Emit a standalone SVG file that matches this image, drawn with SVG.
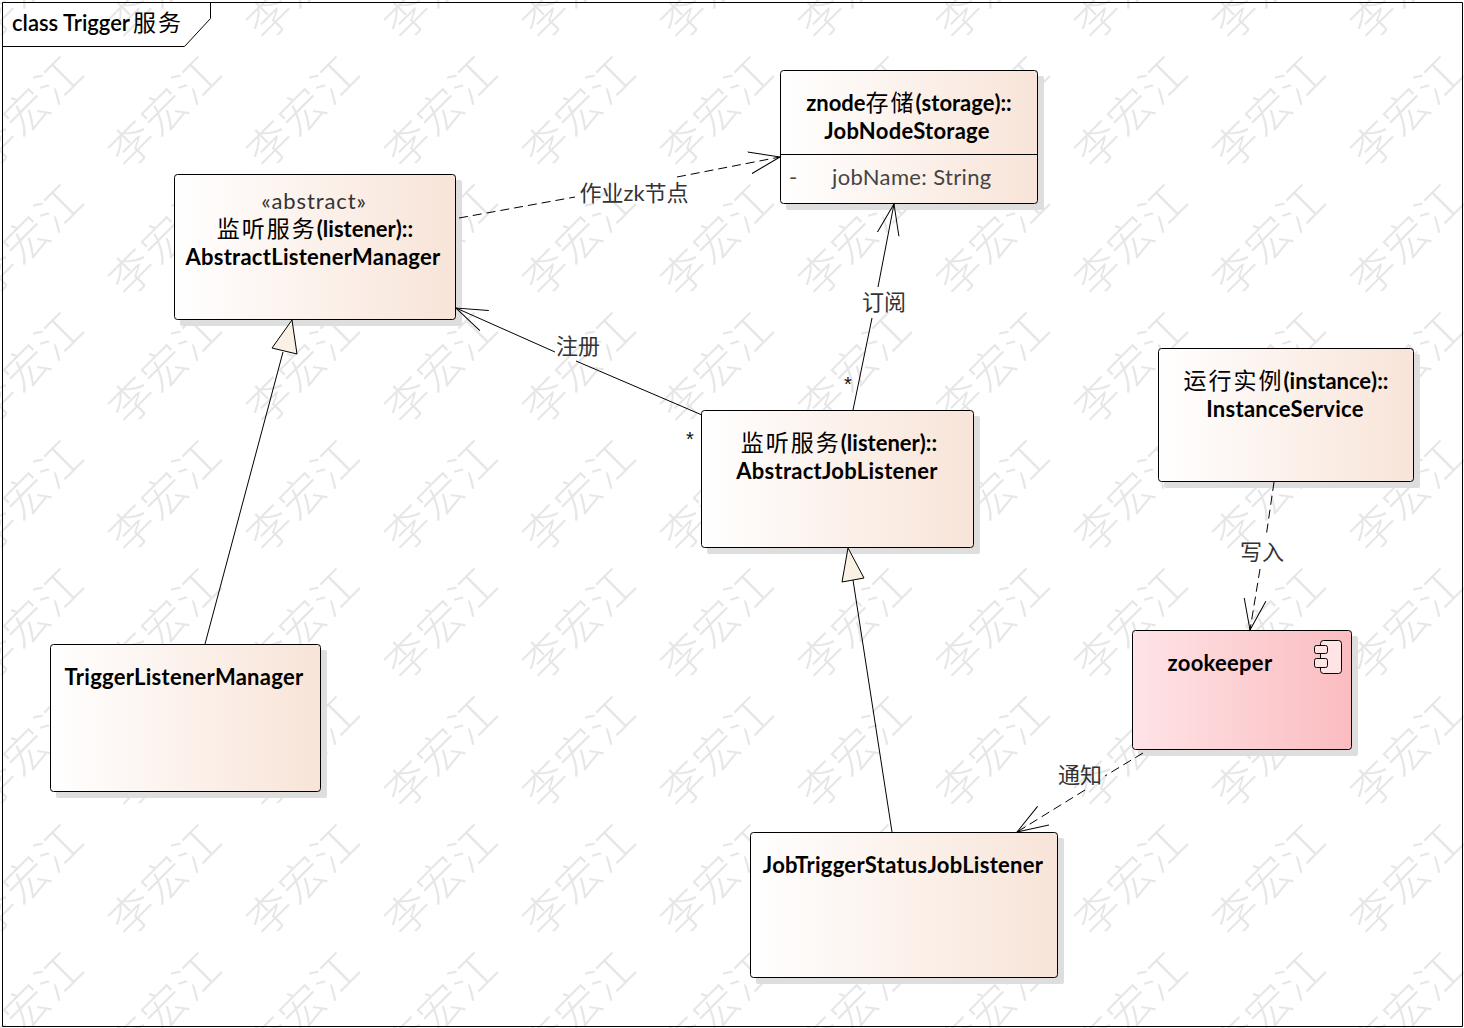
<svg xmlns="http://www.w3.org/2000/svg" width="1464" height="1028" viewBox="0 0 1464 1028">
<defs>
<linearGradient id="g1" x1="0" x2="1" y1="0" y2="0"><stop offset="0" stop-color="#ffffff"/><stop offset="1" stop-color="#f8e4d8"/></linearGradient>
<linearGradient id="g2" x1="0" x2="1" y1="0" y2="0"><stop offset="0" stop-color="#fee4e7"/><stop offset="1" stop-color="#fbbcc0"/></linearGradient>
<pattern id="wm" patternUnits="userSpaceOnUse" width="138" height="128" x="-41" y="48">
<text transform="translate(69 64) rotate(-45)" text-anchor="middle" y="15" class="w">李宏江</text>
</pattern>
<marker id="open" viewBox="0 0 36 24" refX="31" refY="12" markerWidth="36" markerHeight="24" markerUnits="userSpaceOnUse" orient="auto"><path d="M0 1 L31 12 L0 23" fill="none" stroke="#000" stroke-width="1"/></marker>
</defs>
<style>
.w{font:300 44px "Noto Sans CJK SC",sans-serif;fill:#e6e6e6;letter-spacing:2px}
.s{fill:#dedede;stroke:none}
.c{fill:url(#g1);stroke:#000;stroke-width:1}
.z{fill:url(#g2);stroke:#000;stroke-width:1}
text{font-family:Lato,"Noto Sans CJK SC",sans-serif;fill:#000}
.n{font-size:22px;font-weight:700;text-anchor:middle;letter-spacing:.27px}
.nm{letter-spacing:0}
.cj{font-weight:400;font-size:23px;letter-spacing:2px}
.st{font-size:22px;text-anchor:middle;fill:#333;letter-spacing:.9px}
.a{font-size:22px;fill:#444;letter-spacing:.35px}
.l{font-size:22px;fill:#333;text-anchor:middle}
.m{font-family:"Liberation Sans",sans-serif;font-size:20px;text-anchor:middle;fill:#111}
.line{fill:none;stroke:#000;stroke-width:1}
.d{stroke-dasharray:9 5}
.tri{fill:#f8f1e4;stroke:#000;stroke-width:1}
</style>
<rect width="1464" height="1028" fill="#fff"/>
<rect width="1464" height="1028" fill="url(#wm)"/>
<g id="frame">
<path d="M2.500 2.500H1462.500V1026.500H2.500Z" fill="none" stroke="#000"/>
<path d="M2.500 46.500H184.500L210.500 18.500V2.500" fill="none" stroke="#000"/>
<text x="12" y="31" font-size="22" font-weight="600">class Trigger<tspan dx="3" font-size="23" font-weight="400" letter-spacing="2">服务</tspan></text>
</g>
<g id="abstract-listener-manager">
<rect class="s" x="180" y="180" width="282" height="146" rx="2"/>
<rect class="c" x="174.500" y="174.500" width="281" height="145" rx="3"/>
<text class="st" x="314" y="209">«abstract»</text>
<text class="n nm" x="315" y="237"><tspan class="cj">监听服务</tspan>(listener)::</text>
<text class="n" x="313" y="265">AbstractListenerManager</text>
</g>
<g id="job-node-storage">
<rect class="s" x="786" y="76" width="258" height="134" rx="2"/>
<rect class="c" x="780.500" y="70.500" width="257" height="133" rx="3"/>
<path class="line" d="M780 154.500H1037"/>
<text class="n nm" x="909" y="111">znode<tspan class="cj">存储</tspan>(storage)::</text>
<text class="n" x="907" y="139">JobNodeStorage</text>
<text class="a" x="789" y="185">-</text>
<text class="a" x="832" y="185">jobName: String</text>
</g>
<g id="abstract-job-listener">
<rect class="s" x="707" y="416" width="273" height="138" rx="2"/>
<rect class="c" x="701.500" y="410.500" width="272" height="137" rx="3"/>
<text class="n nm" x="839" y="451"><tspan class="cj">监听服务</tspan>(listener)::</text>
<text class="n" x="837" y="479">AbstractJobListener</text>
</g>
<g id="trigger-listener-manager">
<rect class="s" x="56" y="650" width="271" height="148" rx="2"/>
<rect class="c" x="50.500" y="644.500" width="270" height="147" rx="3"/>
<text class="n" x="184" y="685">TriggerListenerManager</text>
</g>
<g id="job-trigger-status-job-listener">
<rect class="s" x="756" y="838" width="308" height="146" rx="2"/>
<rect class="c" x="750.500" y="832.500" width="307" height="145" rx="3"/>
<text class="n" x="903" y="873">JobTriggerStatusJobListener</text>
</g>
<g id="instance-service">
<rect class="s" x="1164" y="354" width="256" height="134" rx="2"/>
<rect class="c" x="1158.500" y="348.500" width="255" height="133" rx="3"/>
<text class="n nm" x="1286" y="389"><tspan class="cj">运行实例</tspan>(instance)::</text>
<text class="n" x="1285" y="417">InstanceService</text>
</g>
<g id="zookeeper">
<rect class="s" x="1138" y="636" width="220" height="120" rx="2"/>
<rect class="z" x="1132.500" y="630.500" width="219" height="119" rx="3"/>
<text class="n" x="1220" y="671">zookeeper</text>
<rect x="1320.500" y="640.500" width="21" height="33" rx="3" fill="#ffe4e6" stroke="#000"/>
<rect x="1314.500" y="645.500" width="13" height="8" rx="2" fill="#ffe4e6" stroke="#000"/>
<rect x="1314.500" y="658.500" width="13" height="9" rx="2" fill="#ffe4e6" stroke="#000"/>
</g>
<g id="connectors">
<path class="line d" d="M459 218L575 197M677 177L780 157" marker-end="url(#open)"/>
<path class="line" d="M853 410L872 318M878 287L894 204" marker-end="url(#open)"/>
<path class="line" d="M702 415L576 361M555 352L456 308" marker-end="url(#open)"/>
<path class="line" d="M205 644L283 352"/>
<path class="line" d="M892 832L853 580"/>
<path class="line d" d="M1274 482L1266 537M1260 569L1250 630" marker-end="url(#open)"/>
<path class="line d" d="M1143 753L1105 776M1085 790L1017 832" marker-end="url(#open)"/>
<path class="tri" d="M292 320L272 348L297 354Z"/>
<path class="tri" d="M848 548L842 582L864 578Z"/>
<g id="connector-labels">
<text class="l" x="634" y="201">作业zk节点</text>
<text class="l" x="884" y="310">订阅</text>
<text class="l" x="578" y="354">注册</text>
<text class="l" x="1262" y="560">写入</text>
<text class="l" x="1080" y="783">通知</text>
<text class="m" x="848" y="391">*</text>
<text class="m" x="690" y="446">*</text>
</g>
</g>
</svg>
